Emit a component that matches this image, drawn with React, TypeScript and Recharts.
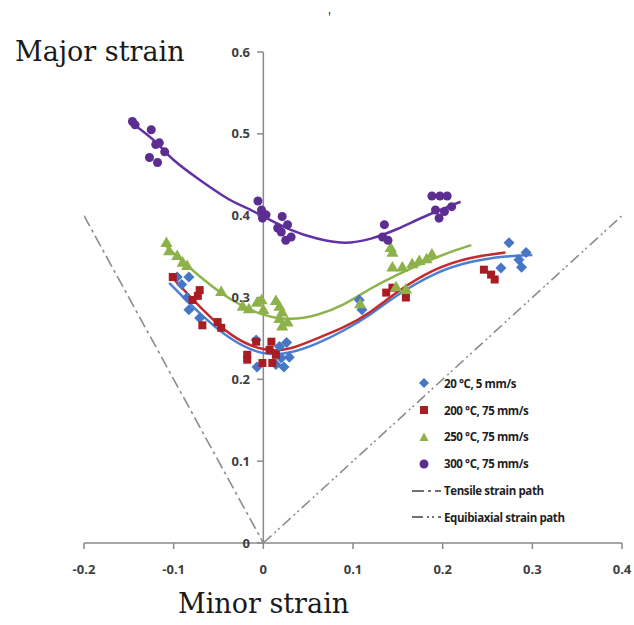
import React from 'react';
import { ComposedChart, Scatter, Line, XAxis, YAxis, ReferenceLine, Legend } from 'recharts';

// axes
const X_TICKS = [-0.2, -0.1, 0, 0.1, 0.2, 0.3, 0.4];
const Y_TICKS = [0, 0.1, 0.2, 0.3, 0.4, 0.5, 0.6];

const dots20 = [
  { x: -0.096, y: 0.325 }, { x: -0.083, y: 0.325 }, { x: -0.091, y: 0.316 }, { x: -0.085, y: 0.3 },
  { x: -0.083, y: 0.285 }, { x: -0.071, y: 0.275 }, { x: -0.008, y: 0.248 }, { x: 0.018, y: 0.24 },
  { x: 0.026, y: 0.245 }, { x: 0.02, y: 0.226 }, { x: 0.029, y: 0.227 }, { x: 0.014, y: 0.218 },
  { x: 0.023, y: 0.215 }, { x: -0.007, y: 0.215 }, { x: 0.107, y: 0.297 }, { x: 0.11, y: 0.285 },
  { x: 0.274, y: 0.367 }, { x: 0.293, y: 0.355 }, { x: 0.285, y: 0.346 }, { x: 0.265, y: 0.336 },
  { x: 0.288, y: 0.337 },
];
const dots200 = [
  { x: -0.101, y: 0.325 }, { x: -0.071, y: 0.309 }, { x: -0.073, y: 0.302 }, { x: -0.079, y: 0.297 },
  { x: -0.051, y: 0.27 }, { x: -0.068, y: 0.266 }, { x: -0.047, y: 0.263 }, { x: -0.018, y: 0.23 },
  { x: -0.018, y: 0.224 }, { x: -0.008, y: 0.246 }, { x: 0.009, y: 0.246 }, { x: 0.007, y: 0.236 },
  { x: 0.014, y: 0.23 }, { x: -0.001, y: 0.22 }, { x: 0.01, y: 0.22 }, { x: 0.137, y: 0.306 },
  { x: 0.144, y: 0.312 }, { x: 0.159, y: 0.3 }, { x: 0.246, y: 0.334 }, { x: 0.254, y: 0.328 },
  { x: 0.258, y: 0.322 },
];
const dots250 = [
  { x: -0.108, y: 0.366 }, { x: -0.105, y: 0.356 }, { x: -0.096, y: 0.35 }, { x: -0.09, y: 0.342 },
  { x: -0.085, y: 0.338 }, { x: -0.047, y: 0.306 }, { x: -0.023, y: 0.288 }, { x: -0.016, y: 0.285 },
  { x: -0.007, y: 0.293 }, { x: -0.002, y: 0.296 }, { x: 0, y: 0.284 }, { x: 0.014, y: 0.295 },
  { x: 0.018, y: 0.288 }, { x: 0.021, y: 0.281 }, { x: 0.018, y: 0.273 }, { x: 0.027, y: 0.269 },
  { x: 0.021, y: 0.264 }, { x: 0.108, y: 0.291 }, { x: 0.142, y: 0.36 }, { x: 0.144, y: 0.354 },
  { x: 0.144, y: 0.336 }, { x: 0.155, y: 0.336 }, { x: 0.166, y: 0.34 }, { x: 0.174, y: 0.344 },
  { x: 0.182, y: 0.346 }, { x: 0.188, y: 0.352 }, { x: 0.148, y: 0.312 }, { x: 0.159, y: 0.309 },
];
const dots300 = [
  { x: -0.146, y: 0.515 }, { x: -0.143, y: 0.511 }, { x: -0.125, y: 0.505 }, { x: -0.12, y: 0.487 },
  { x: -0.116, y: 0.489 }, { x: -0.127, y: 0.471 }, { x: -0.118, y: 0.465 }, { x: -0.11, y: 0.478 },
  { x: -0.006, y: 0.418 }, { x: -0.002, y: 0.407 }, { x: 0.003, y: 0.401 }, { x: -0.001, y: 0.397 },
  { x: 0.021, y: 0.399 }, { x: 0.027, y: 0.389 }, { x: 0.02, y: 0.38 }, { x: 0.031, y: 0.374 },
  { x: 0.025, y: 0.37 }, { x: 0.016, y: 0.385 }, { x: 0.135, y: 0.389 }, { x: 0.133, y: 0.374 },
  { x: 0.139, y: 0.37 }, { x: 0.188, y: 0.424 }, { x: 0.197, y: 0.424 }, { x: 0.205, y: 0.424 },
  { x: 0.192, y: 0.407 }, { x: 0.202, y: 0.405 }, { x: 0.196, y: 0.397 }, { x: 0.21, y: 0.411 },
];

// trend lines
const fit20 = [
  { x: -0.105, y: 0.318 }, { x: -0.07, y: 0.28 }, { x: -0.035, y: 0.249 }, { x: 0, y: 0.232 },
  { x: 0.03, y: 0.233 }, { x: 0.06, y: 0.244 }, { x: 0.09, y: 0.26 }, { x: 0.12, y: 0.28 },
  { x: 0.15, y: 0.303 }, { x: 0.19, y: 0.328 }, { x: 0.23, y: 0.343 }, { x: 0.27, y: 0.35 },
  { x: 0.3, y: 0.352 },
];
const fit200 = [
  { x: -0.102, y: 0.325 }, { x: -0.07, y: 0.288 }, { x: -0.035, y: 0.254 }, { x: 0, y: 0.237 },
  { x: 0.03, y: 0.238 }, { x: 0.06, y: 0.25 }, { x: 0.09, y: 0.264 }, { x: 0.12, y: 0.283 },
  { x: 0.15, y: 0.307 }, { x: 0.19, y: 0.333 }, { x: 0.23, y: 0.348 }, { x: 0.27, y: 0.355 },
];
const fit250 = [
  { x: -0.108, y: 0.362 }, { x: -0.07, y: 0.325 }, { x: -0.035, y: 0.297 }, { x: 0, y: 0.279 },
  { x: 0.03, y: 0.274 }, { x: 0.06, y: 0.279 }, { x: 0.09, y: 0.292 }, { x: 0.12, y: 0.311 },
  { x: 0.15, y: 0.328 }, { x: 0.18, y: 0.343 }, { x: 0.21, y: 0.356 }, { x: 0.232, y: 0.364 },
];
const fit300 = [
  { x: -0.145, y: 0.512 }, { x: -0.12, y: 0.49 }, { x: -0.1, y: 0.468 }, { x: -0.07, y: 0.443 },
  { x: -0.04, y: 0.421 }, { x: -0.02, y: 0.41 }, { x: 0, y: 0.399 }, { x: 0.03, y: 0.383 },
  { x: 0.06, y: 0.372 }, { x: 0.09, y: 0.367 }, { x: 0.12, y: 0.372 }, { x: 0.15, y: 0.384 },
  { x: 0.18, y: 0.399 }, { x: 0.22, y: 0.417 },
];

// strain paths
const tensilePath = [{ x: -0.2, y: 0.4 }, { x: 0, y: 0 }];
const equibiaxialPath = [{ x: 0, y: 0 }, { x: 0.4, y: 0.4 }];

const LEGEND_LABELS = [
  '20 °C, 5 mm/s',
  '200 °C, 75 mm/s',
  '250 °C, 75 mm/s',
  '300 °C, 75 mm/s',
  'Tensile strain path',
  'Equibiaxial strain path',
];

const BLUE = '#4676c6';
const RED = '#a81c22';
const GREEN = '#8cb249';
const PURPLE = '#5c2e91';
const AXIS = '#8a8a8a';
const PATH = '#8c8c8c';
const TICK_FONT = '"Open Sans", sans-serif';
const TITLE_FONT = '"DejaVu Serif", serif';
const TICK_STYLE = { fill: '#404040', fontSize: 13, fontWeight: 700, fontFamily: TICK_FONT };

const TENSILE_DASH = '12 4 3 4';
const EQUI_DASH = '11 4 2 3 2 4';

const Diamond = (props: any) => {
  const { cx, cy } = props;
  if (cx == null || cy == null) return null;
  const r = 5.5;
  return <polygon points={`${cx},${cy - r} ${cx + r},${cy} ${cx},${cy + r} ${cx - r},${cy}`} fill={BLUE} />;
};

const LegendMarker = ({ i }: { i: number }) => {
  if (i === 0) return <svg width={30} height={12}><polygon points="12,1 17,6 12,11 7,6" fill={BLUE} /></svg>;
  if (i === 1) return <svg width={30} height={12}><rect x={8} y={2} width={8} height={8} fill={RED} /></svg>;
  if (i === 2) return <svg width={30} height={12}><polygon points="12,1.5 16.5,10 7.5,10" fill={GREEN} /></svg>;
  if (i === 3) return <svg width={30} height={12}><circle cx={12} cy={6} r={4.5} fill={PURPLE} /></svg>;
  const dash = i === 4 ? TENSILE_DASH : EQUI_DASH;
  return (
    <svg width={30} height={12}>
      <line x1={0} y1={6} x2={29} y2={6} stroke="#707070" strokeWidth={2} strokeDasharray={dash} />
    </svg>
  );
};

const renderLegend = () => (
  <div style={{ fontFamily: TICK_FONT, fontSize: 11.5, fontWeight: 700, color: '#1f1f1f' }}>
    {LEGEND_LABELS.map((label, i) => (
      <div key={label} style={{ display: 'flex', alignItems: 'center', height: 26.8, whiteSpace: 'nowrap' }}>
        <LegendMarker i={i} />
        <span style={{ marginLeft: 2, letterSpacing: -0.4 }}>{label}</span>
      </div>
    ))}
  </div>
);

const yTickLabel = (value: string) => ({
  value,
  position: 'left' as const,
  offset: 7,
  ...TICK_STYLE,
});

const Titles = () => (
  <g>
    <text x={15} y={61} fontFamily={TITLE_FONT} fontSize={27} fill="#1a1a1a">Major strain</text>
    <text x={178} y={613} fontFamily={TITLE_FONT} fontSize={27} fill="#1a1a1a">Minor strain</text>
    <text x={328} y={22} fontFamily={TICK_FONT} fontSize={14} fill="#333">'</text>
  </g>
);

const App: React.FC = () => {
  return (
    <div style={{ position: 'absolute', left: 0, top: 0, width: 634, height: 625, background: '#fff' }}>
      <ComposedChart width={634} height={625} margin={{ top: 52, right: 12, bottom: 52, left: 84 }}>
        <XAxis
          type="number"
          dataKey="x"
          domain={[-0.2, 0.4]}
          ticks={X_TICKS}
          allowDataOverflow
          height={30}
          stroke={AXIS}
          strokeWidth={1.5}
          tickSize={6}
          tickMargin={16}
          tick={TICK_STYLE}
          tickFormatter={(v: number) => (v === 0 ? '0' : String(v))}
          label={{ content: () => <Titles /> }}
        />
        <YAxis type="number" dataKey="y" domain={[0, 0.6]} ticks={Y_TICKS} hide allowDataOverflow />

        <ReferenceLine x={0} stroke={AXIS} strokeWidth={1.5} ifOverflow="extendDomain" />
        {Y_TICKS.map((t) => (
          <ReferenceLine
            key={t}
            segment={[{ x: -0.007, y: t }, { x: 0, y: t }]}
            stroke={AXIS}
            strokeWidth={1.5}
            label={yTickLabel(t === 0 ? '0' : String(t))}
          />
        ))}

        <Line data={tensilePath} dataKey="y" type="linear" stroke={PATH} strokeWidth={1.6} strokeDasharray={TENSILE_DASH} dot={false} isAnimationActive={false} legendType="none" />
        <Line data={equibiaxialPath} dataKey="y" type="linear" stroke={PATH} strokeWidth={1.6} strokeDasharray={EQUI_DASH} dot={false} isAnimationActive={false} legendType="none" />

        <Scatter data={dots20} fill={BLUE} shape={<Diamond />} isAnimationActive={false} />
        <Scatter data={dots200} fill={RED} shape="square" isAnimationActive={false} />
        <Scatter data={dots250} fill={GREEN} shape="triangle" isAnimationActive={false} />
        <Scatter data={dots300} fill={PURPLE} shape="circle" isAnimationActive={false} />

        <Line data={fit20} dataKey="y" type="natural" stroke="#4a80d4" strokeWidth={2.5} dot={false} isAnimationActive={false} />
        <Line data={fit200} dataKey="y" type="natural" stroke="#c42a2f" strokeWidth={2.5} dot={false} isAnimationActive={false} />
        <Line data={fit250} dataKey="y" type="natural" stroke="#8db44a" strokeWidth={2.5} dot={false} isAnimationActive={false} />
        <Line data={fit300} dataKey="y" type="natural" stroke="#6331a6" strokeWidth={2.5} dot={false} isAnimationActive={false} />

        <Legend
          layout="vertical"
          align="center"
          verticalAlign="middle"
          content={renderLegend}
          wrapperStyle={{ left: 412, top: 370, width: 210, height: 165 }}
        />
      </ComposedChart>
    </div>
  );
};

export default App;
